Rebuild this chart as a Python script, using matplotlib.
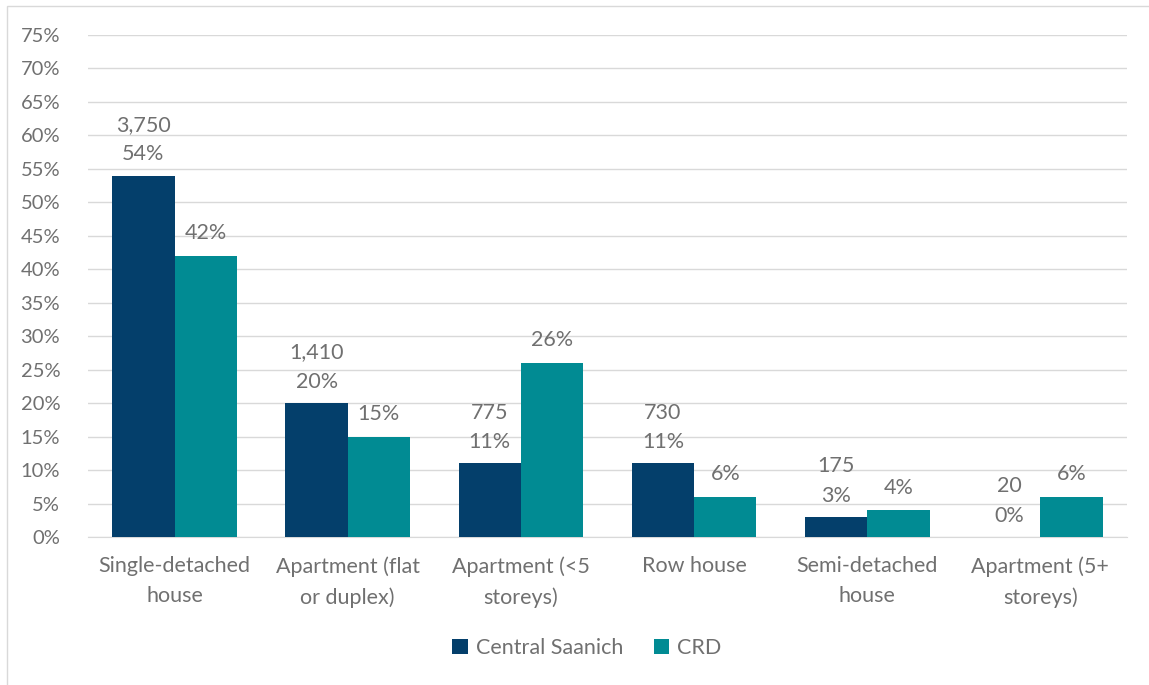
import numpy as np
import matplotlib.pyplot as plt
from matplotlib.patches import Rectangle

categories = ["Single-detached\nhouse", "Apartment (flat\nor duplex)", "Apartment (<5\nstoreys)",
              "Row house", "Semi-detached\nhouse", "Apartment (5+\nstoreys)"]
saanich_pct = [54, 20, 11, 11, 3, 0]
saanich_count = ["3,750", "1,410", "775", "730", "175", "20"]
crd_pct = [42, 15, 26, 6, 4, 6]

DARK = "#043f6b"
TEAL = "#018b93"
GREY = "#707070"
FS = 15.5

plt.rcParams["font.family"] = ["Lato", "DejaVu Sans"]

fig = plt.figure(figsize=(11.49, 6.85), dpi=100)
fig.patches.append(Rectangle((7 / 1149, -0.1), 1.2, (685 - 6) / 685 + 0.1,
                             transform=fig.transFigure, fill=False,
                             edgecolor="#d9d9d9", linewidth=1))
ax = fig.add_axes([88 / 1149, (685 - 537) / 685, (1127 - 88) / 1149, (537 - 35) / 685])

x = np.arange(len(categories))
w = 0.36
b1 = ax.bar(x - w / 2, saanich_pct, w, color=DARK, label="Central Saanich", zorder=3)
b2 = ax.bar(x + w / 2, crd_pct, w, color=TEAL, label="CRD", zorder=3)

for rect, pct, cnt in zip(b1, saanich_pct, saanich_count):
    ax.annotate(f"{cnt}\n{pct}%", (rect.get_x() + rect.get_width() / 2, rect.get_height()),
                xytext=(0, 8), textcoords="offset points", ha="center", va="bottom",
                fontsize=FS, color=GREY, linespacing=1.6)
for rect, pct in zip(b2, crd_pct):
    ax.annotate(f"{pct}%", (rect.get_x() + rect.get_width() / 2, rect.get_height()),
                xytext=(0, 9), textcoords="offset points", ha="center", va="bottom",
                fontsize=FS, color=GREY)

ax.set_xlim(-0.5, len(categories) - 0.5)
ax.set_ylim(0, 75)
ax.set_yticks(range(0, 80, 5))
ax.set_yticklabels([f"{v}%" for v in range(0, 80, 5)])
ax.set_xticks(x)
ax.set_xticklabels(categories, linespacing=1.6)
ax.tick_params(axis="x", length=0, labelsize=FS, labelcolor=GREY, pad=14)
ax.tick_params(axis="y", length=0, labelsize=14.5, labelcolor=GREY, pad=20)
ax.grid(axis="y", color="#d9d9d9", linewidth=1, zorder=0)
for side in ["top", "right", "left"]:
    ax.spines[side].set_visible(False)
ax.spines["bottom"].set_color("#d9d9d9")

leg = fig.legend(loc="center", bbox_to_anchor=(587 / 1149, 1 - 648 / 685), ncol=2,
                 frameon=False, fontsize=FS, handlelength=0.7, handleheight=0.7,
                 columnspacing=1.4, handletextpad=0.4)
for t in leg.get_texts():
    t.set_color(GREY)

fig.savefig("out.png", dpi=100)
